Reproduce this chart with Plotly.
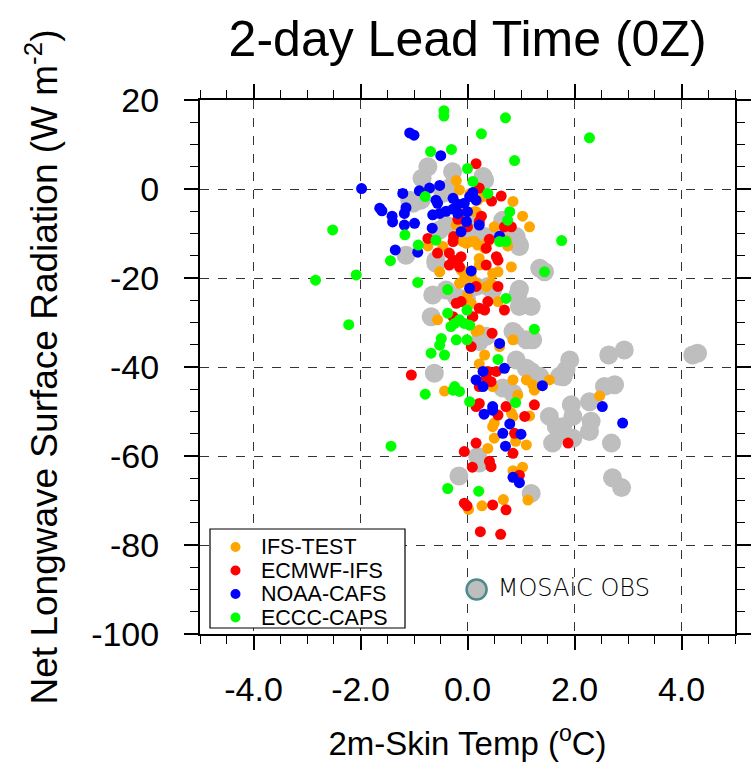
import plotly.graph_objects as go

# ---------------- data ----------------
obs_x = [-0.85, -0.74, -0.28, 0.32, 0.29, -0.87, -1.02, -1.08, -0.46, -0.34, -0.40, -0.52, -0.02,
         0.66, 0.60, 0.85, 0.97, 0.32, 0.07, -1.15, -0.59, -0.59, 0.91, 0.97, 1.35, 1.44,
         -0.65, -0.40, -0.21, -0.02, 0.16, 0.38, 0.47, 0.97, 0.94, 1.19, 0.97, -0.68, 0.35,
         0.85, 0.91, 1.10, 1.22, 0.22, 0.91, 1.91, 1.10, -0.62, 1.19, 1.35, 1.72, 1.84, 1.79,
         0.66, 0.85, 1.53, 1.66, 1.75, 1.59, 1.94, 1.97, 0.19, 0.22, -0.16, 1.19,
         2.64, 2.93, 4.21, 4.30, 2.56, 2.75, 2.28, 2.31, 2.28, 1.78, 1.97, 2.69, 2.71, 2.88]
obs_y = [2.4, 5.0, 3.9, 2.0, 2.8, -2.5, -3.2, -2.5, -1.0, 0.2, -8.1, -9.2, -7.0,
         -7.0, -10.0, -10.7, -12.9, -10.7, -10.0, -14.9, -16.7, -16.0, -10.7, -12.6, -17.8, -18.6,
         -23.8, -22.7, -24.2, -24.6, -21.9, -21.9, -22.7, -22.5, -23.8, -26.4, -26.4, -28.7, -33.1,
         -32.0, -32.8, -33.9, -33.9, -34.3, -38.4, -38.4, -40.3, -41.4, -41.0, -42.1, -42.1, -40.7, -42.2,
         -44.7, -45.9, -51.1, -53.4, -54.9, -57.1, -48.5, -51.1, -60.1, -61.6, -64.5, -68.4,
         -37.3, -36.2, -37.3, -36.9, -44.4, -44.0, -47.8, -52.2, -54.5, -53.4, -56.0, -57.1, -64.9, -67.1]

ifs_test_x = [-0.74, -0.52, -0.21, -0.15, 0.05, 0.19, 0.29, 0.85, 1.03, 1.16, 0.16, 0.13, -0.21, 0.50,
              0.75, 0.38, 0.72, 0.82, -0.46, -0.02, 0.13, 0.19, -0.09, 0.07, 0.32, -0.12, -0.01,
              -0.06, 0.07, 0.22, 0.22, 0.47, 0.57, -0.09, 0.04, 0.35, -0.15, 0.16, 0.44, 0.0,
              -0.09, 0.07, 0.57, -0.56, 0.16, 0.22, 0.85, 0.60, 0.32, 0.22, 0.85, 1.10, 1.22,
              1.25, 1.53, 0.47, 0.94, -0.43, 0.82, 0.85, 1.16, 0.50, 0.47, 0.50, 0.90, 1.10,
              0.38, 0.85, 1.03, 1.13, 0.02, 0.27, 0.67, 2.47]
ifs_test_y = [-12.8, -18.6, 1.9, -0.2, -1.0, -2.5, -1.7, -2.8, -6.1, -8.5, -5.1, -5.1, -8.1, -8.5,
              -12.8, -11.8, -11.5, -17.5, -12.9, -12.2, -11.8, -12.6, -11.8, -11.8, -13.3, -18.2, -18.6,
              -19.0, -19.7, -15.6, -17.1, -19.0, -18.6, -20.8, -21.2, -21.9, -21.2, -21.2, -21.2, -23.8,
              -25.3, -25.7, -25.3, -29.4, -32.0, -31.7, -33.9, -35.4, -37.3, -39.3, -42.9, -42.9, -44.0,
              -45.2, -42.9, -44.4, -46.3, -45.4, -50.3, -51.1, -51.0, -52.6, -53.4, -56.0, -56.7, -57.5,
              -58.3, -63.3, -62.5, -69.9, -72.0, -71.2, -69.8, -46.5]

ecmwf_x = [0.16, 0.22, 0.63, 0.45, 0.26, 0.22, -0.18, -0.15, 0.0, 0.69, 0.82, 0.41, 0.35, 0.54,
           0.57, -0.74, -0.56, -0.34, -0.27, -0.18, -0.34, -0.15, -0.12, -0.27, -0.26, 0.35,
           0.16, 0.57, -0.21, -0.12, 0.22, 0.32, 0.38, 0.69, -0.27, 0.10, 0.46, 0.07, -1.05,
           0.38, 0.54, 0.35, 0.44, 0.22, 0.16, 0.22, 0.72, 0.57, 1.07, 1.25, 0.88, 1.88, 0.16,
           0.85, -0.06, 0.41, 0.44, 0.09, 0.97, -0.06, -0.01, 0.47, 0.72, 0.24, 0.62]
ecmwf_y = [5.7, 0.2, -1.6, -2.7, -6.1, -7.3, -6.8, -5.5, -8.5, -8.5, -8.5, -11.3, -13.3, -15.2,
           -16.0, -11.1, -14.4, -14.4, -16.0, -16.0, -17.1, -17.5, -15.2, -11.8, -10.7, -17.1,
           -21.9, -21.9, -25.7, -25.3, -26.8, -27.2, -25.3, -27.2, -28.7, -28.7, -32.4, -35.4, -41.8,
           -41.0, -41.0, -42.5, -43.3, -44.4, -48.9, -48.2, -48.9, -50.8, -51.1, -48.5, -54.9, -57.1, -57.1,
           -59.4, -59.0, -61.2, -62.4, -62.5, -64.3, -70.6, -71.2, -71.0, -72.1, -77.0, -77.6]

noaa_x = [-1.08, -1.00, -0.50, -1.98, -1.21, -0.90, -0.71, -0.52, -0.59, -0.56, -1.64, -1.60, -1.41,
          -1.15, -1.40, -1.18, -1.18, -0.99, -0.65, -0.52, -0.40, -0.27, -0.18, -0.66, -1.35, -0.93,
          -0.27, -0.18, -0.06, 0.04, 0.10, 0.16, 0.0, -0.02, -0.12, 0.22, 0.60, 0.07, 0.04,
          0.60, 0.29, 0.69, 0.16, 0.29, 1.40, 0.31, 0.47, 0.47, 0.79, 0.66, 1.00, 0.71, 0.85, 0.97,
          2.52, 2.90]
noaa_y = [12.6, 12.1, 7.5, 0.1, -1.0, -0.4, 0.2, 0.8, -2.5, -3.2, -4.3, -4.9, -6.1,
          -4.2, -7.4, -8.1, -5.5, -7.7, -5.8, -5.5, -5.0, -4.5, -5.5, -8.8, -13.7, -14.2,
          -2.1, -3.4, -3.2, -1.7, -0.8, -2.5, -5.1, -7.3, -9.6, -8.1, -10.6, -18.4, -22.3,
          -34.7, -41.0, -40.3, -42.9, -44.4, -44.2, -50.6, -48.9, -49.7, -52.8, -54.9, -55.1, -57.8, -64.8, -66.0,
          -48.9, -52.6]

eccc_x = [-0.44, -0.44, -0.69, -0.30, 0.0, 0.71, 0.26, 0.88, 2.28, 0.10, 0.38, -0.79, 0.79, 0.75,
          0.60, 0.72, 1.76, -0.59, -2.52, -1.17, -0.92, -1.44, -2.84, -2.08, -0.93, 1.44,
          -0.37, 0.72, -0.37, -0.24, -0.15, -0.31, -0.06, 0.04, -0.01, 1.25, -0.49, -0.52,
          -0.68, -0.43, -0.21, -0.01, 0.57, -2.22, -0.24, -0.15, -0.27, -0.79, 0.04, 0.90,
          -1.43, -0.37, 0.21]
eccc_y = [17.6, 16.4, 8.4, 8.9, 4.6, 16.0, 12.4, 6.4, 11.5, 1.7, -1.0, -1.7, -5.1, -7.0,
          -11.8, -11.8, -11.6, -11.5, -9.2, -10.3, -12.6, -16.1, -20.5, -19.3, -21.0, -18.6,
          -22.6, -24.6, -27.9, -30.2, -29.4, -30.9, -30.2, -30.6, -27.2, -31.5, -33.6, -35.1,
          -36.9, -37.3, -33.9, -33.9, -38.3, -30.5, -44.4, -45.5, -45.2, -46.1, -47.8, -48.0,
          -57.8, -67.3, -67.9]

mosaic_x = [0.17]
mosaic_y = [-90.0]

x_tickvals = [-4, -2, 0, 2, 4]
x_ticktext = ["-4.0", "-2.0", "0.0", "2.0", "4.0"]
y_tickvals = [-100, -80, -60, -40, -20, 0, 20]
y_ticktext = ["-100", "-80", "-60", "-40", "-20", "0", "20"]

series_names = ["IFS-TEST", "ECMWF-IFS", "NOAA-CAFS", "ECCC-CAPS"]
series_colors = ["#ffa500", "#ff0000", "#0000ff", "#00ff00"]

FONT = "Liberation Sans, Arial, Helvetica, sans-serif"

# ---------------- figure ----------------
fig = go.Figure()

fig.add_trace(go.Scatter(x=obs_x, y=obs_y, mode="markers", showlegend=False, name="MOSAiC OBS",
                         marker=dict(color="#bebebe", size=19, line=dict(width=0)),
                         hoverinfo="skip"))

series_data = [(ifs_test_x, ifs_test_y), (ecmwf_x, ecmwf_y), (noaa_x, noaa_y), (eccc_x, eccc_y)]
for name, col, (xs, ys) in zip(series_names, series_colors, series_data):
    fig.add_trace(go.Scatter(x=xs, y=ys, mode="markers", name=name, showlegend=False,
                             marker=dict(color=col, size=11, line=dict(width=0))))

fig.add_trace(go.Scatter(x=mosaic_x, y=mosaic_y, mode="markers+text", showlegend=False,
                         text=[" MOSAiC OBS"], textposition="middle right",
                         textfont=dict(family="DejaVu Sans", size=24, color="#000000", weight=300),
                         marker=dict(color="#bebebe", size=20,
                                     line=dict(color="#4f8a8f", width=2.5))))

# ---- legend box drawn manually (compact NCL-style legend) ----
L, R, T, B = 200, 735, 100, 634
def px(xp):
    return (xp - L) / (R - L)
def py(yp):
    return (B - yp) / (B - T)

fig.add_shape(type="rect", xref="paper", yref="paper",
              x0=px(210), x1=px(405), y0=py(628), y1=py(529),
              line=dict(color="black", width=1.2), fillcolor="white", layer="above")
for i, (name, col) in enumerate(zip(series_names, series_colors)):
    yc = 547 + i * 23.5
    fig.add_shape(type="circle", xref="paper", yref="paper",
                  x0=px(230.5), x1=px(240.5), y0=py(yc + 5), y1=py(yc - 5),
                  line=dict(width=0), fillcolor=col, layer="above")
    fig.add_annotation(xref="paper", yref="paper", x=px(259), y=py(yc),
                       xanchor="left", yanchor="middle", showarrow=False,
                       text=name, font=dict(family=FONT, size=21.5, color="black"))

axis_common = dict(
    showline=True, linecolor="black", linewidth=2, mirror="allticks",
    ticks="outside", ticklen=14, tickwidth=1.5, tickcolor="black",
    showgrid=True, gridcolor="#333333", gridwidth=1.4, griddash="dash",
    zeroline=False, automargin=False,
    tickfont=dict(family=FONT, size=34, color="black"),
)

fig.update_xaxes(
    range=[-5, 5], tickmode="array", tickvals=x_tickvals, ticktext=x_ticktext,
    minor=dict(dtick=0.5, tick0=0, ticks="outside", ticklen=8, tickwidth=1.2,
               tickcolor="black", showgrid=False),
    ticklabelstandoff=10,
    title=dict(text="2m-Skin Temp (<sup>o</sup>C)",
               font=dict(family=FONT, size=33, color="black"),
               standoff=25),
    **axis_common)

fig.update_yaxes(
    range=[-100, 20], tickmode="array", tickvals=y_tickvals, ticktext=y_ticktext,
    minor=dict(dtick=5, tick0=0, ticks="outside", ticklen=8, tickwidth=1.2,
               tickcolor="black", showgrid=False),
    ticklabelstandoff=18,
    title=dict(text="Net Longwave Surface Radiation (W m<sup>-2</sup>)",
               font=dict(family=FONT, size=37, color="black"),
               standoff=22),
    **axis_common)

fig.update_layout(
    width=753, height=764,
    margin=dict(l=200, r=18, t=100, b=130),
    paper_bgcolor="white", plot_bgcolor="white",
    showlegend=False,
    title=dict(text="2-day Lead Time (0Z)", x=0.621, xanchor="center", y=0.950, yanchor="middle",
               font=dict(family=FONT, size=50, color="black")),
)

fig.write_html("out.html")
